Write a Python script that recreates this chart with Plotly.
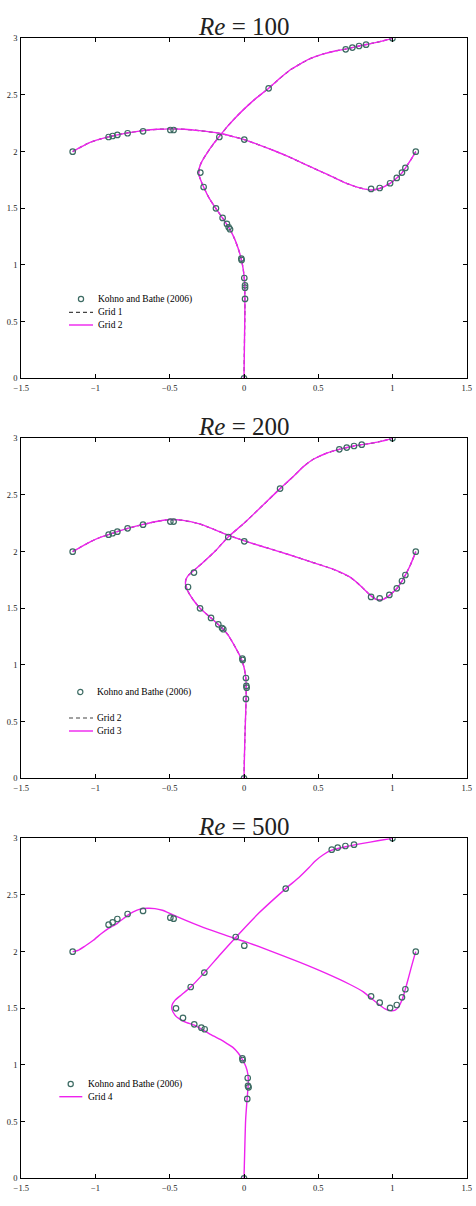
import plotly.graph_objects as go

# ---------------- data ----------------
re_values = ["100", "200", "500"]
ref_label = "Kohno and Bathe (2006)"
grid_labels = [("Grid 1", "Grid 2"), ("Grid 2", "Grid 3"), (None, "Grid 4")]

# Reference markers (Kohno and Bathe 2006)
refA_x_100 = [0.0, 0.007, 0.007, 0.007, 0.002, -0.016, -0.018, -0.094, -0.103, -0.115, -0.144, -0.189, -0.272, -0.294, -0.166, 0.166, 0.685, 0.730, 0.775, 0.822, 1.0]
refA_y_100 = [0.0, 0.70, 0.80, 0.82, 0.885, 1.044, 1.056, 1.315, 1.332, 1.362, 1.415, 1.50, 1.688, 1.815, 2.129, 2.559, 2.903, 2.918, 2.932, 2.944, 3.0]
refB_x_100 = [-1.154, -0.912, -0.885, -0.853, -0.784, -0.680, -0.496, -0.474, 0.002, 0.856, 0.914, 0.984, 1.029, 1.064, 1.087, 1.157]
refB_y_100 = [2.0, 2.129, 2.138, 2.147, 2.162, 2.179, 2.191, 2.191, 2.106, 1.671, 1.679, 1.721, 1.768, 1.815, 1.856, 2.0]

refA_x_200 = [0.0, 0.013, 0.018, 0.016, 0.013, -0.009, -0.011, -0.139, -0.148, -0.173, -0.222, -0.296, -0.377, -0.337, -0.106, 0.243, 0.642, 0.692, 0.741, 0.793, 1.0]
refA_y_200 = [0.0, 0.70, 0.80, 0.815, 0.885, 1.044, 1.056, 1.315, 1.326, 1.359, 1.415, 1.50, 1.688, 1.815, 2.129, 2.556, 2.903, 2.918, 2.932, 2.944, 3.0]
refB_x_200 = [-1.154, -0.912, -0.885, -0.853, -0.784, -0.680, -0.496, -0.474, 0.002, 0.856, 0.914, 0.979, 1.029, 1.064, 1.087, 1.157]
refB_y_200 = [2.0, 2.15, 2.162, 2.176, 2.206, 2.238, 2.265, 2.265, 2.091, 1.60, 1.588, 1.618, 1.676, 1.741, 1.794, 2.0]

refA_x_500 = [0.0, 0.022, 0.031, 0.027, 0.025, -0.009, -0.011, -0.265, -0.287, -0.335, -0.411, -0.458, -0.359, -0.267, -0.056, 0.281, 0.591, 0.631, 0.683, 0.741, 1.0]
refA_y_500 = [0.0, 0.70, 0.803, 0.815, 0.885, 1.044, 1.059, 1.315, 1.329, 1.359, 1.415, 1.50, 1.688, 1.815, 2.129, 2.556, 2.90, 2.918, 2.932, 2.944, 3.0]
refB_x_500 = [-1.154, -0.912, -0.885, -0.853, -0.784, -0.680, -0.496, -0.474, 0.002, 0.856, 0.914, 0.984, 1.029, 1.064, 1.087, 1.157]
refB_y_500 = [2.0, 2.238, 2.259, 2.288, 2.332, 2.359, 2.30, 2.291, 2.053, 1.606, 1.55, 1.503, 1.529, 1.597, 1.668, 2.0]

# Computed lines (present work)
lineA_x_100 = [0.0, 0.002, 0.004, 0.006, 0.004, -0.005, -0.018, -0.04, -0.07, -0.10, -0.145, -0.19, -0.235, -0.272, -0.295, -0.305, -0.300, -0.285, -0.25, -0.205, -0.166, -0.12, -0.072, 0.0, 0.08, 0.166, 0.24, 0.31, 0.38, 0.445, 0.53, 0.62, 0.685, 0.775, 0.86, 0.93, 1.0]
lineA_y_100 = [0.0, 0.2, 0.4, 0.6, 0.85, 0.96, 1.05, 1.15, 1.25, 1.325, 1.415, 1.50, 1.59, 1.688, 1.76, 1.81, 1.86, 1.91, 1.985, 2.07, 2.135, 2.21, 2.28, 2.375, 2.47, 2.559, 2.645, 2.72, 2.775, 2.82, 2.86, 2.89, 2.905, 2.932, 2.955, 2.975, 3.0]
lineB_x_100 = [-1.154, -1.10, -1.04, -0.97, -0.912, -0.853, -0.784, -0.68, -0.58, -0.496, -0.40, -0.30, -0.166, -0.08, 0.002, 0.1, 0.2, 0.3, 0.4, 0.5, 0.6, 0.7, 0.78, 0.856, 0.914, 0.984, 1.029, 1.064, 1.087, 1.12, 1.157]
lineB_y_100 = [2.0, 2.04, 2.08, 2.11, 2.13, 2.148, 2.165, 2.185, 2.197, 2.201, 2.197, 2.185, 2.162, 2.135, 2.106, 2.06, 2.01, 1.955, 1.895, 1.835, 1.775, 1.715, 1.68, 1.662, 1.675, 1.72, 1.767, 1.813, 1.855, 1.92, 2.0]

lineA_x_200 = [0.0, 0.003, 0.007, 0.012, 0.014, 0.015, 0.012, 0.0, -0.02, -0.06, -0.11, -0.148, -0.222, -0.296, -0.345, -0.378, -0.393, -0.392, -0.375, -0.337, -0.28, -0.19, -0.106, 0.0, 0.12, 0.243, 0.33, 0.40, 0.467, 0.56, 0.642, 0.741, 0.85, 0.93, 1.0]
lineA_y_200 = [0.0, 0.2, 0.4, 0.6, 0.70, 0.80, 0.885, 0.98, 1.06, 1.16, 1.27, 1.326, 1.415, 1.50, 1.58, 1.65, 1.706, 1.75, 1.79, 1.835, 1.90, 2.01, 2.13, 2.25, 2.40, 2.556, 2.66, 2.75, 2.815, 2.87, 2.902, 2.932, 2.955, 2.975, 3.0]
lineB_x_200 = [-1.154, -1.10, -1.03, -0.96, -0.912, -0.853, -0.784, -0.68, -0.58, -0.50, -0.42, -0.30, -0.20, -0.106, 0.002, 0.15, 0.3, 0.45, 0.6, 0.72, 0.80, 0.856, 0.894, 0.94, 0.979, 1.029, 1.064, 1.087, 1.12, 1.157]
lineB_y_200 = [2.0, 2.04, 2.09, 2.13, 2.15, 2.177, 2.205, 2.24, 2.268, 2.283, 2.278, 2.245, 2.195, 2.145, 2.095, 2.035, 1.975, 1.91, 1.845, 1.77, 1.68, 1.61, 1.577, 1.58, 1.614, 1.674, 1.74, 1.793, 1.88, 2.0]

lineA_x_500 = [0.0, 0.002, 0.006, 0.011, 0.018, 0.024, 0.029, 0.026, 0.013, -0.009, -0.038, -0.075, -0.117, -0.16, -0.207, -0.265, -0.335, -0.386, -0.428, -0.465, -0.485, -0.484, -0.465, -0.42, -0.359, -0.267, -0.16, -0.056, 0.1, 0.281, 0.37, 0.44, 0.48, 0.534, 0.591, 0.683, 0.80, 0.90, 1.0]
lineA_y_500 = [0.0, 0.1, 0.3, 0.515, 0.65, 0.75, 0.84, 0.92, 0.985, 1.044, 1.103, 1.155, 1.191, 1.225, 1.256, 1.30, 1.352, 1.374, 1.40, 1.44, 1.49, 1.53, 1.57, 1.62, 1.688, 1.815, 1.975, 2.125, 2.34, 2.556, 2.655, 2.745, 2.80, 2.855, 2.895, 2.925, 2.955, 2.978, 3.0]
lineB_x_500 = [-1.154, -1.12, -1.07, -1.015, -0.96, -0.912, -0.853, -0.784, -0.746, -0.70, -0.65, -0.60, -0.55, -0.496, -0.40, -0.296, -0.17, -0.072, 0.002, 0.15, 0.377, 0.55, 0.714, 0.804, 0.86, 0.917, 0.95, 0.984, 1.015, 1.04, 1.065, 1.085, 1.11, 1.141, 1.157]
lineB_y_500 = [2.0, 2.01, 2.05, 2.10, 2.16, 2.205, 2.25, 2.32, 2.35, 2.375, 2.383, 2.38, 2.365, 2.335, 2.28, 2.225, 2.165, 2.12, 2.09, 2.02, 1.905, 1.81, 1.71, 1.645, 1.585, 1.525, 1.495, 1.48, 1.482, 1.51, 1.575, 1.66, 1.78, 1.93, 2.0]

x_ticks = [-1.5, -1, -0.5, 0, 0.5, 1, 1.5]
x_tick_text = ["\u22121.5", "\u22121", "\u22120.5", "0", "0.5", "1", "1.5"]
y_ticks = [0, 0.5, 1, 1.5, 2, 2.5, 3]
y_tick_text = ["0", "0.5", "1", "1.5", "2", "2.5", "3"]

# ---------------- styling ----------------
W, H = 476, 1206
MAGENTA = "#ee22ee"
MARK = "#3d6b63"
DASH = "#444444"
FONT = "Liberation Serif"

panels = [
    (refA_x_100, refA_y_100, refB_x_100, refB_y_100, lineA_x_100, lineA_y_100, lineB_x_100, lineB_y_100),
    (refA_x_200, refA_y_200, refB_x_200, refB_y_200, lineA_x_200, lineA_y_200, lineB_x_200, lineB_y_200),
    (refA_x_500, refA_y_500, refB_x_500, refB_y_500, lineA_x_500, lineA_y_500, lineB_x_500, lineB_y_500),
]

# pixel geometry of each plot box (top, bottom)
boxes = [(38.3, 378.3), (438.3, 778.3), (838.3, 1178.3)]
x_left, x_right = 21.3, 466.7
# legend layout in pixels: (marker_x, marker_y, line_x0, line_x1, text_x, dash_y, solid_y)
legend_px = [
    (81.0, 299.0, 69.0, 93.0, 96.0, 312.3, 325.0),
    (80.3, 692.0, 69.0, 93.0, 95.3, 718.0, 731.0),
    (70.7, 1084.0, 59.3, 82.3, 85.7, None, 1096.7),
]


def px(x):
    return x / W


def py(y):
    return 1 - y / H


fig = go.Figure()
layout = dict(
    width=W, height=H,
    margin=dict(l=0, r=0, t=0, b=0, autoexpand=False),
    paper_bgcolor="white", plot_bgcolor="white",
    font=dict(family=FONT, size=9, color="black"),
    showlegend=False,
    annotations=[], shapes=[],
)

for i, (ax_, ay_, bx_, by_, lax, lay, lbx, lby) in enumerate(panels):
    n = "" if i == 0 else str(i + 1)
    xa, ya = "x" + n, "y" + n
    g_dash, g_solid = grid_labels[i]

    if g_dash is not None:
        for lx, ly in [(lax, lay), (lbx, lby)]:
            fig.add_trace(go.Scatter(
                x=lx, y=ly, mode="lines", xaxis=xa, yaxis=ya,
                line=dict(color=DASH, width=1.2, dash="4px,3px", shape="spline", smoothing=0.6),
                name=g_dash, hoverinfo="skip"))
    for lx, ly in [(lax, lay), (lbx, lby)]:
        fig.add_trace(go.Scatter(
            x=lx, y=ly, mode="lines", xaxis=xa, yaxis=ya,
            line=dict(color=MAGENTA, width=1.4, shape="spline", smoothing=0.6),
            name=g_solid))
    for rx, ry in [(ax_, ay_), (bx_, by_)]:
        fig.add_trace(go.Scatter(
            x=rx, y=ry, mode="markers", xaxis=xa, yaxis=ya,
            marker=dict(symbol="circle-open", size=5.5, color=MARK, line=dict(width=1.2, color=MARK)),
            name=ref_label))

    top, bot = boxes[i]
    axis_common = dict(
        showline=True, linecolor="black", linewidth=1.3, mirror="ticks",
        ticks="inside", ticklen=4, tickwidth=1, tickcolor="black",
        showgrid=False, zeroline=False, automargin=False,
        tickfont=dict(family=FONT, size=8.5, color="#222"),
    )
    layout["xaxis" + n] = dict(
        axis_common, range=[-1.5, 1.5], tickvals=x_ticks, ticktext=x_tick_text,
        domain=[x_left / W, x_right / W], anchor=ya, ticklabelstandoff=1,
    )
    layout["yaxis" + n] = dict(
        axis_common, range=[0, 3], tickvals=y_ticks, ticktext=y_tick_text,
        domain=[1 - bot / H, 1 - top / H], anchor=xa, ticklabelstandoff=1,
    )
    layout["annotations"].append(dict(
        text="<i>Re</i> = " + re_values[i],
        x=(x_left + x_right) / 2 / W, y=py(top - 11.5),
        xref="paper", yref="paper", xanchor="center", yanchor="middle",
        showarrow=False, font=dict(family=FONT, size=25, color="#222"),
    ))

    # manual legend
    mx, my, lx0, lx1, tx, dy, sy = legend_px[i]
    r = 2.6
    layout["shapes"].append(dict(
        type="circle", xref="paper", yref="paper",
        x0=px(mx - r), x1=px(mx + r), y0=py(my + r), y1=py(my - r),
        line=dict(color=MARK, width=1.2), fillcolor="rgba(0,0,0,0)"))
    layout["annotations"].append(dict(
        text=ref_label, x=px(tx), y=py(my), xref="paper", yref="paper",
        xanchor="left", yanchor="middle", showarrow=False,
        font=dict(family=FONT, size=9.5, color="black")))
    if g_dash is not None:
        layout["shapes"].append(dict(
            type="line", xref="paper", yref="paper",
            x0=px(lx0), x1=px(lx1), y0=py(dy), y1=py(dy),
            line=dict(color=DASH, width=1.2, dash="4px,3px")))
        layout["annotations"].append(dict(
            text=g_dash, x=px(tx), y=py(dy), xref="paper", yref="paper",
            xanchor="left", yanchor="middle", showarrow=False,
            font=dict(family=FONT, size=9.5, color="black")))
    layout["shapes"].append(dict(
        type="line", xref="paper", yref="paper",
        x0=px(lx0), x1=px(lx1), y0=py(sy), y1=py(sy),
        line=dict(color=MAGENTA, width=1.4)))
    layout["annotations"].append(dict(
        text=g_solid, x=px(tx), y=py(sy), xref="paper", yref="paper",
        xanchor="left", yanchor="middle", showarrow=False,
        font=dict(family=FONT, size=9.5, color="black")))

fig.update_layout(**layout)
fig.write_html("out.html")
